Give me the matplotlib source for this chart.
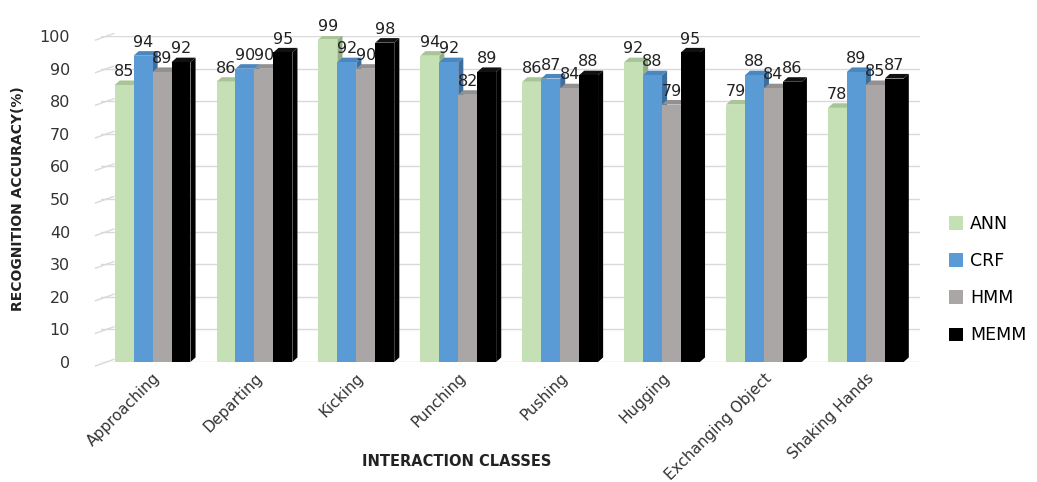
import numpy as np
import matplotlib.pyplot as plt
from matplotlib.patches import Polygon, Patch

classes = ["Approaching", "Departing", "Kicking", "Punching", "Pushing",
           "Hugging", "Exchanging Object", "Shaking Hands"]
methods = ["ANN", "CRF", "HMM", "MEMM"]
ann = [85, 86, 99, 94, 86, 92, 79, 78]
crf = [94, 90, 92, 92, 87, 88, 88, 89]
hmm = [89, 90, 90, 82, 84, 79, 84, 85]
memm = [92, 95, 98, 89, 88, 95, 86, 87]
series = [ann, crf, hmm, memm]

front = ["#C5E0B4", "#5B9BD5", "#AAA6A6", "#000000"]
side = ["#93AD84", "#3C6FA0", "#7C7878", "#000000"]
top = ["#A9C496", "#4A86BF", "#939090", "#111111"]

fig = plt.figure(figsize=(10.37, 4.82), dpi=100)
ax = fig.add_axes([0.097, 0.249, 0.79, 0.676])

x = np.arange(len(classes))
w = 0.186
dx, dy = 0.05, 1.4

for k, vals in enumerate(series):
    xs = x - 1.5 * w + k * w
    z = 2 + k * 2
    for i, v in enumerate(vals):
        x0, x1 = xs[i] - w / 2, xs[i] + w / 2
        ax.add_patch(Polygon([[x1, 0], [x1 + dx, dy], [x1 + dx, v + dy], [x1, v]],
                             closed=True, fc=side[k], ec="none", zorder=z))
        ax.add_patch(Polygon([[x0, v], [x1, v], [x1 + dx, v + dy], [x0 + dx, v + dy]],
                             closed=True, fc=top[k], ec="none", zorder=z))
    ax.bar(xs, vals, width=w, color=front[k], zorder=z + 1, linewidth=0)
    for i, v in enumerate(vals):
        ax.text(xs[i], v + 1.8, str(v), ha="center", va="bottom", fontsize=11.5,
                color="#222222", zorder=20, clip_on=False)

ax.set_xlim(-0.51, 7.53)
ax.set_ylim(0, 100)
ax.set_yticks(range(0, 101, 10))
ax.yaxis.grid(True, color="#D9D9D9", linewidth=1)
ax.set_axisbelow(True)
for s in ax.spines.values():
    s.set_visible(False)
ax.tick_params(axis="y", length=0, pad=22, labelsize=11.5, labelcolor="#333333")
ax.tick_params(axis="x", length=0, pad=6)
ax.set_xticks(x)
ax.set_xticklabels(classes, rotation=45, ha="right", rotation_mode="anchor",
                   fontsize=11, color="#333333")

# slanted wall edges on the left side
for yv in range(0, 101, 10):
    ax.plot([-0.56, -0.38], [yv - 1.2, yv + 0.8], color="#D9D9D9", lw=1,
            clip_on=False, zorder=0)

ax.set_ylabel("RECOGNITION ACCURACY(%)", fontsize=10, fontweight="bold",
              color="#222222", fontfamily="Liberation Sans Narrow")
ax.yaxis.set_label_coords(-0.092, 0.5)
fig.text(0.44, 0.028, "INTERACTION CLASSES", ha="center", va="bottom",
         fontsize=10.5, fontweight="bold", color="#222222",
         fontfamily="Liberation Sans Narrow")

handles = [Patch(fc=c, ec="none") for c in front]
fig.legend(handles, methods, loc="center left", bbox_to_anchor=(0.9, 0.42),
           frameon=False, fontsize=12.5, labelspacing=1.1, handlelength=0.8,
           handleheight=0.8, handletextpad=0.4)

fig.savefig("out.png", dpi=100)
